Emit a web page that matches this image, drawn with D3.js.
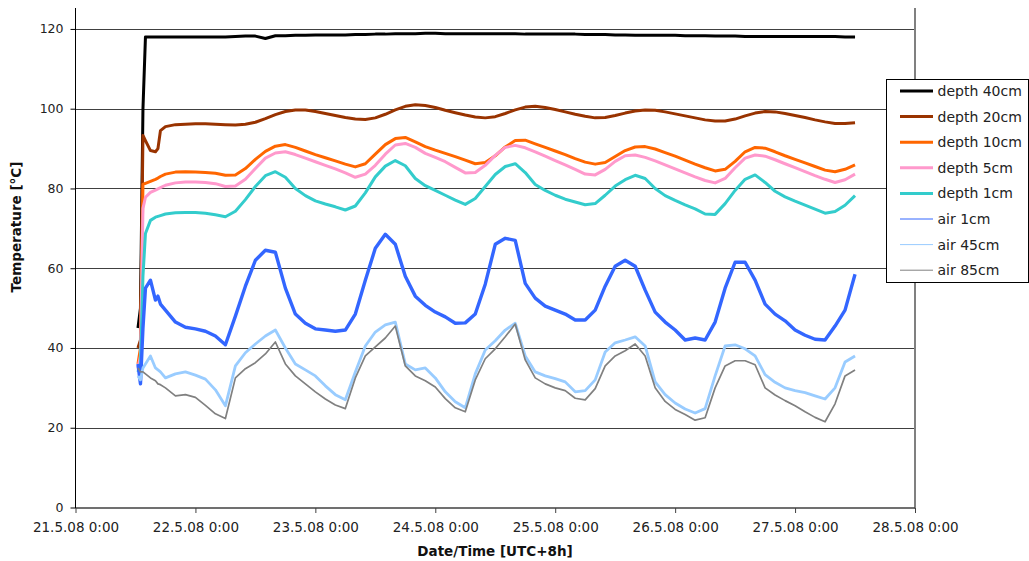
<!DOCTYPE html>
<html><head><meta charset="utf-8">
<script src="https://cdn.jsdelivr.net/npm/d3@7"></script>
<style>
html,body{margin:0;padding:0;background:#fff;}
svg{display:block;font-family:"DejaVu Sans",Verdana,sans-serif;}
</style></head>
<body><svg id="chart" width="1029" height="561"></svg>
<script>
// hours after 21.5.08 0:00 (UTC+8h)
const hours = [12.5,13,13.5,14,15,16,16.5,17,18,
  20,22,24,26,28,30,32,34,36,38,
  40,42,44,46,48,50,52,54,56,58,
  60,62,64,66,68,70,72,74,76,78,
  80,82,84,86,88,90,92,94,96,98,
  100,102,104,106,108,110,112,114,116,118,
  120,122,124,126,128,130,132,134,136,138,
  140,142,144,146,148,150,152,154,156];

const depth40 = [45,50,100,118,118,118,118,118,118,
  118,118,118,118,118,118,118.1,118.2,118.2,117.6,
  118.3,118.3,118.4,118.4,118.5,118.5,118.5,118.5,118.6,118.6,
  118.7,118.7,118.8,118.8,118.8,118.9,118.9,118.8,118.8,118.8,
  118.8,118.8,118.8,118.8,118.8,118.7,118.7,118.7,118.7,118.7,
  118.7,118.6,118.6,118.6,118.5,118.5,118.4,118.4,118.4,118.4,
  118.4,118.3,118.3,118.3,118.2,118.2,118.2,118.1,118.1,118.1,
  118.1,118.1,118.1,118.1,118.1,118.1,118.1,118,118];

const depth20 = [40,42,93.3,92,89.5,89.2,90,94.5,95.5,
  96,96.1,96.2,96.2,96.1,96,95.9,96.1,96.6,97.5,
  98.5,99.3,99.7,99.7,99.3,98.8,98.3,97.8,97.4,97.3,
  97.7,98.6,99.7,100.6,101,100.8,100.3,99.6,99,98.4,
  97.9,97.7,98,98.8,99.7,100.4,100.6,100.3,99.8,99.2,
  98.6,98.1,97.7,97.8,98.3,98.9,99.4,99.7,99.6,99.2,
  98.7,98.2,97.7,97.2,96.9,96.9,97.4,98.2,98.9,99.3,
  99.2,98.8,98.3,97.8,97.2,96.7,96.3,96.3,96.5];

const depth10 = [36,40,81,81.3,81.8,82.3,82.6,83,83.6,
  84.1,84.2,84.1,84,83.8,83.3,83.4,85,87.3,89.3,
  90.6,91,90.3,89.4,88.5,87.7,86.9,86.1,85.4,86.2,
  88.6,91,92.5,92.8,91.7,90.5,89.6,88.8,88,87.1,
  86.2,86.5,88.2,90.4,92,92.1,91.2,90.3,89.4,88.5,
  87.5,86.6,86.1,86.5,88,89.5,90.4,90.5,89.9,89,
  88.1,87.1,86.1,85.2,84.4,84.8,86.8,89.2,90.3,90.1,
  89.2,88.2,87.3,86.4,85.5,84.6,84.2,84.8,85.9];

const depth5 = [35,38,75,77.8,79,79.6,79.9,80.2,80.8,
  81.4,81.6,81.6,81.5,81.2,80.5,80.6,82.3,85,87.6,
  88.9,89.2,88.5,87.6,86.7,85.8,84.9,83.9,82.8,83.6,
  85.8,88.6,90.9,91.3,90.3,88.8,87.8,86.7,85.3,83.9,
  84,85.8,88.3,90.3,90.8,90.2,89.2,88.1,87,85.9,
  84.8,83.6,83.4,84.8,86.8,88.2,88.4,87.8,86.9,85.9,
  84.9,83.9,82.9,82,81.4,82.5,85.2,87.6,88.4,88.1,
  87.2,86.2,85.2,84.2,83.2,82.3,81.5,82.2,83.6];

const depth1 = [34,36,58,68.7,72,72.8,73,73.2,73.6,
  73.9,74,74,73.8,73.4,72.9,74.3,77.2,80.5,83.2,
  84.2,82.8,80,78.2,76.9,76.1,75.4,74.6,75.6,78.9,
  82.9,85.6,87,85.7,82.5,80.7,79.5,78.3,77.1,76,
  77.5,80.5,83.5,85.5,86.2,84,81,79.5,78.3,77.3,
  76.6,75.9,76.2,78.3,80.6,82.2,83.3,82.5,80,78.2,
  77,75.9,74.9,73.6,73.5,76.2,79.5,82.3,83.4,81.5,
  79.3,77.9,76.8,75.8,74.8,73.8,74.2,75.8,78.2];

const air1 = [36,31,45,55,57,52,53,51,49.5,
  46.5,45.2,44.8,44.2,43,40.8,48,55.5,62,64.5,
  64,55,48.5,46.2,44.8,44.5,44.2,44.5,48.5,57,
  65,68.5,66,58,53,50.7,49,47.8,46.2,46.3,
  48.5,56,66,67.5,67,56.2,52.5,50.5,49.5,48.5,
  47,47,49.5,55.5,60.5,62,60.5,54.5,49,46.5,
  44.5,42,42.5,42,46.5,55,61.5,61.5,57,51,
  48.5,46.8,44.5,43.2,42.2,42,45.5,49.5,58.5];

const air45 = [33,32,35,36,38,35,34.5,34,32.5,
  33.5,34,33.2,32.2,29.5,25.5,35.5,38.8,41,43,
  44.5,40,36,34.5,33,30.5,28.3,27,34,40.5,
  44,45.8,46.5,36,34.5,35,32.5,29,26.5,25,
  33.5,39.5,41.8,44.5,46.2,38,34,33,32.3,31.5,
  29,29.3,32,39,41.3,42,42.8,40.5,31.5,28.3,
  26.2,24.7,23.7,24.8,33,40.5,40.8,39.8,38,33.3,
  31.4,30,29.3,28.8,28,27.2,30,36.5,38];

const air85 = [35,34,34,33.5,32.5,31.8,31,30.8,30,
  28,28.3,27.6,25.6,23.5,22.3,32.5,34.8,36.3,38.5,
  41.5,36,33,31,29,27.2,25.7,24.8,32.5,38,
  40.3,42.5,45.5,35.5,33,31.8,30.2,27.3,25,24,
  32,37.3,39.8,42.8,46,37,32.5,31,30,29.3,
  27.4,27,29.8,35.5,38,39.3,41,38,30,26.6,
  24.6,23.3,21.9,22.5,30,35.5,36.8,36.8,35.8,30,
  28.2,26.8,25.5,24,22.6,21.5,26,33,34.5];

const seriesNames = ["depth 40cm","depth 20cm","depth 10cm","depth 5cm","depth 1cm","air 1cm","air 45cm","air 85cm"];
const seriesValues = [depth40, depth20, depth10, depth5, depth1, air1, air45, air85];
const xTickLabels = ["21.5.08 0:00","22.5.08 0:00","23.5.08 0:00","24.5.08 0:00","25.5.08 0:00","26.5.08 0:00","27.5.08 0:00","28.5.08 0:00"];
const yTicks = [0,20,40,60,80,100,120];

const colors = ["#000000","#993300","#FF6600","#FF99CC","#33CCCC","#3366FF","#99CCFF","#808080"];
const widths = [3,3,3,3,3,3.4,2.8,1.7];
const legendWidths = [3,3,3,3,3,1,1,1];

const svg = d3.select("#chart");
const start = Date.UTC(2008,4,21,0,0);
const toDate = h => new Date(start + h*3600*1000);

const x = d3.scaleUtc().domain([toDate(0), toDate(168)]).range([75.5, 915]);
const y = d3.scaleLinear().domain([0,125]).range([507.5, 9]);

// gridlines
svg.append("g").selectAll("line").data(yTicks.filter(v=>v>0)).join("line")
  .attr("x1",75.5).attr("x2",915)
  .attr("y1",d=>Math.round(y(d))+0.5).attr("y2",d=>Math.round(y(d))+0.5)
  .attr("stroke","#404040").attr("stroke-width",1);

// right border
svg.append("line").attr("x1",915).attr("x2",915).attr("y1",8).attr("y2",508.5)
  .attr("stroke","#808080").attr("stroke-width",2);

// series
const line = d3.line().x(d=>x(toDate(d[0]))).y(d=>y(d[1]));
const gS = svg.append("g");
seriesValues.forEach((vals,i)=>{
  const pts = d3.zip(hours, vals);
  gS.append("path").datum(pts).attr("d",line)
    .attr("fill","none").attr("stroke",colors[i]).attr("stroke-width",widths[i])
    .attr("stroke-linejoin","round").attr("stroke-linecap","butt");
});

// x axis
const xTickDates = xTickLabels.map((l,i)=>toDate(24*i));
const xAxis = d3.axisBottom(x).tickValues(xTickDates).tickSize(5).tickPadding(6)
  .tickFormat((d,i)=>xTickLabels[i]);
const gx = svg.append("g").attr("transform","translate(0,508)").call(xAxis);
gx.select(".domain").attr("stroke","#404040").attr("stroke-width",1.5).attr("d","M75.5,0H915");
gx.selectAll(".tick line").attr("stroke","#404040");
gx.selectAll("text").attr("font-size","13.5px").attr("fill","#222").attr("font-family","DejaVu Sans, sans-serif").attr("dy","0.95em");

// y axis
const yAxis = d3.axisLeft(y).tickValues(yTicks).tickSize(5).tickPadding(7).tickFormat(d3.format("d"));
const gy = svg.append("g").attr("transform","translate(75.5,0)").call(yAxis);
gy.select(".domain").attr("stroke","#000").attr("d","M0,8V508");
gy.selectAll(".tick line").attr("stroke","#000");
gy.selectAll("text").attr("font-size","12.5px").attr("fill","#222").attr("font-family","DejaVu Sans, sans-serif");

// axis titles
svg.append("text").attr("x",495).attr("y",556).attr("text-anchor","middle")
  .attr("font-weight","bold").attr("font-size","13.5px").attr("fill","#111").text("Date/Time [UTC+8h]");
svg.append("text").attr("transform","translate(21,227) rotate(-90)").attr("text-anchor","middle")
  .attr("font-weight","bold").attr("font-size","13.5px").attr("fill","#111").text("Temperature [°C]");

// legend
const lg = svg.append("g");
lg.append("rect").attr("x",886.5).attr("y",79.5).attr("width",142).attr("height",203)
  .attr("fill","#fff").attr("stroke","#000").attr("stroke-width",1);
seriesNames.forEach((n,i)=>{
  const yy = 91 + i*25.6;
  lg.append("line").attr("x1",900).attr("x2",933).attr("y1",yy).attr("y2",yy)
    .attr("stroke",colors[i]).attr("stroke-width",legendWidths[i]);
  lg.append("text").attr("x",937.5).attr("y",yy).attr("dy","0.35em")
    .attr("font-size","14px").attr("fill","#222").text(n);
});
</script></body></html>
